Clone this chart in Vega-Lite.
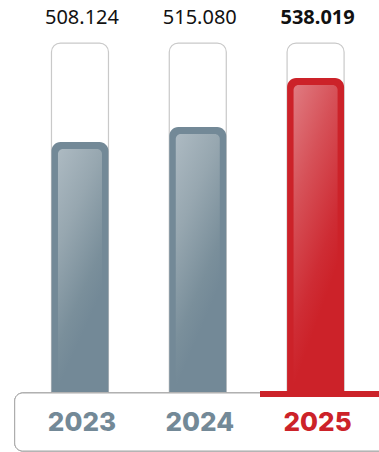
{
  "$schema": "https://vega.github.io/schema/vega-lite/v6.json",
  "width": 379,
  "height": 452,
  "autosize": {"type": "fit", "contains": "padding"},
  "padding": 0,
  "background": "white",
  "config": {"view": {"stroke": null}},
  "data": {
    "values": [
      {"year": 2023, "value": 508.124, "group": "prev"},
      {"year": 2024, "value": 515.080, "group": "prev"},
      {"year": 2025, "value": 538.019, "group": "current"}
    ]
  },
  "encoding": {
    "x": {"field": "year", "type": "quantitative", "axis": null,
          "scale": {"domain": [2022.3636, 2025.4959], "nice": false, "zero": false}}
  },
  "layer": [
    {
      "mark": {"type": "bar", "width": 57, "cornerRadius": 9, "fill": "white", "stroke": "#c9c9c9", "strokeWidth": 1.2},
      "encoding": {
        "y": {"datum": 554.3, "type": "quantitative", "axis": null,
              "scale": {"domain": [363.28, 574.4], "nice": false, "zero": false}},
        "y2": {"datum": 375}
      }
    },
    {
      "mark": {"type": "rect", "cornerRadius": 8, "fill": "white", "stroke": "#a8a8a8", "strokeWidth": 1, "clip": true},
      "encoding": {
        "x": {"datum": 2022.446},
        "x2": {"datum": 2025.65},
        "y": {"datum": 390.84},
        "y2": {"datum": 363.75}
      }
    },
    {
      "transform": [{"filter": "datum.group === 'prev'"}],
      "mark": {"type": "bar", "width": 57, "cornerRadiusTopLeft": 9, "cornerRadiusTopRight": 9, "cornerRadiusBottomLeft": 0, "cornerRadiusBottomRight": 0, "color": "#738997"},
      "encoding": {
        "y": {"field": "value", "type": "quantitative"},
        "y2": {"datum": 391.3}
      }
    },
    {
      "transform": [{"filter": "datum.group === 'current'"}],
      "mark": {"type": "bar", "width": 57, "cornerRadiusTopLeft": 9, "cornerRadiusTopRight": 9, "cornerRadiusBottomLeft": 0, "cornerRadiusBottomRight": 0, "color": "#cc2229"},
      "encoding": {
        "y": {"field": "value", "type": "quantitative"},
        "y2": {"datum": 391.3}
      }
    },
    {
      "transform": [{"filter": "datum.group === 'prev'"}],
      "mark": {"type": "bar", "width": 44, "cornerRadiusTopLeft": 5, "cornerRadiusTopRight": 5, "cornerRadiusBottomLeft": 0, "cornerRadiusBottomRight": 0, "yOffset": 7, "y2Offset": 0,
               "color": {"gradient": "linear", "x1": 0, "y1": 0, "x2": 0.4, "y2": 1,
                          "stops": [
                            {"offset": 0, "color": "#adbac2"},
                            {"offset": 0.35, "color": "#97a7b0"},
                            {"offset": 0.7, "color": "#7a8f9b"},
                            {"offset": 0.85, "color": "#738997"},
                            {"offset": 1, "color": "#738997"}
                          ]}},
      "encoding": {
        "y": {"field": "value", "type": "quantitative"},
        "y2": {"datum": 391.3}
      }
    },
    {
      "transform": [{"filter": "datum.group === 'current'"}],
      "mark": {"type": "bar", "width": 44, "cornerRadiusTopLeft": 5, "cornerRadiusTopRight": 5, "cornerRadiusBottomLeft": 0, "cornerRadiusBottomRight": 0, "yOffset": 7, "y2Offset": 0,
               "color": {"gradient": "linear", "x1": 0, "y1": 0, "x2": 0.4, "y2": 1,
                          "stops": [
                            {"offset": 0, "color": "#e07b81"},
                            {"offset": 0.35, "color": "#d65158"},
                            {"offset": 0.7, "color": "#ce2c34"},
                            {"offset": 0.85, "color": "#cc2229"},
                            {"offset": 1, "color": "#cc2229"}
                          ]}},
      "encoding": {
        "y": {"field": "value", "type": "quantitative"},
        "y2": {"datum": 391.3}
      }
    },
    {
      "mark": {"type": "rect", "color": "#cc2229", "clip": true},
      "encoding": {
        "x": {"datum": 2024.529},
        "x2": {"datum": 2025.65},
        "y": {"datum": 391.77},
        "y2": {"datum": 388.96}
      }
    },
    {
      "transform": [{"filter": "datum.group === 'prev'"}],
      "mark": {"type": "text", "font": "Noto Sans", "fontSize": 20, "color": "#111111", "baseline": "middle", "dx": 2},
      "encoding": {
        "y": {"datum": 566.0},
        "text": {"field": "value", "type": "quantitative", "format": ".3f"}
      }
    },
    {
      "transform": [{"filter": "datum.group === 'current'"}],
      "mark": {"type": "text", "font": "Noto Sans", "fontSize": 20, "fontWeight": "bold", "color": "#111111", "baseline": "middle", "dx": 2},
      "encoding": {
        "y": {"datum": 566.0},
        "text": {"field": "value", "type": "quantitative", "format": ".3f"}
      }
    },
    {
      "transform": [{"filter": "datum.group === 'prev'"}],
      "mark": {"type": "text", "font": "Inter", "fontSize": 26, "fontWeight": 800, "color": "#738997", "baseline": "middle", "dx": 2},
      "encoding": {
        "y": {"datum": 376.8},
        "text": {"field": "year", "type": "quantitative", "format": "d"}
      }
    },
    {
      "transform": [{"filter": "datum.group === 'current'"}],
      "mark": {"type": "text", "font": "Inter", "fontSize": 26, "fontWeight": 800, "color": "#cc2229", "baseline": "middle", "dx": 2},
      "encoding": {
        "y": {"datum": 376.8},
        "text": {"field": "year", "type": "quantitative", "format": "d"}
      }
    }
  ]
}
